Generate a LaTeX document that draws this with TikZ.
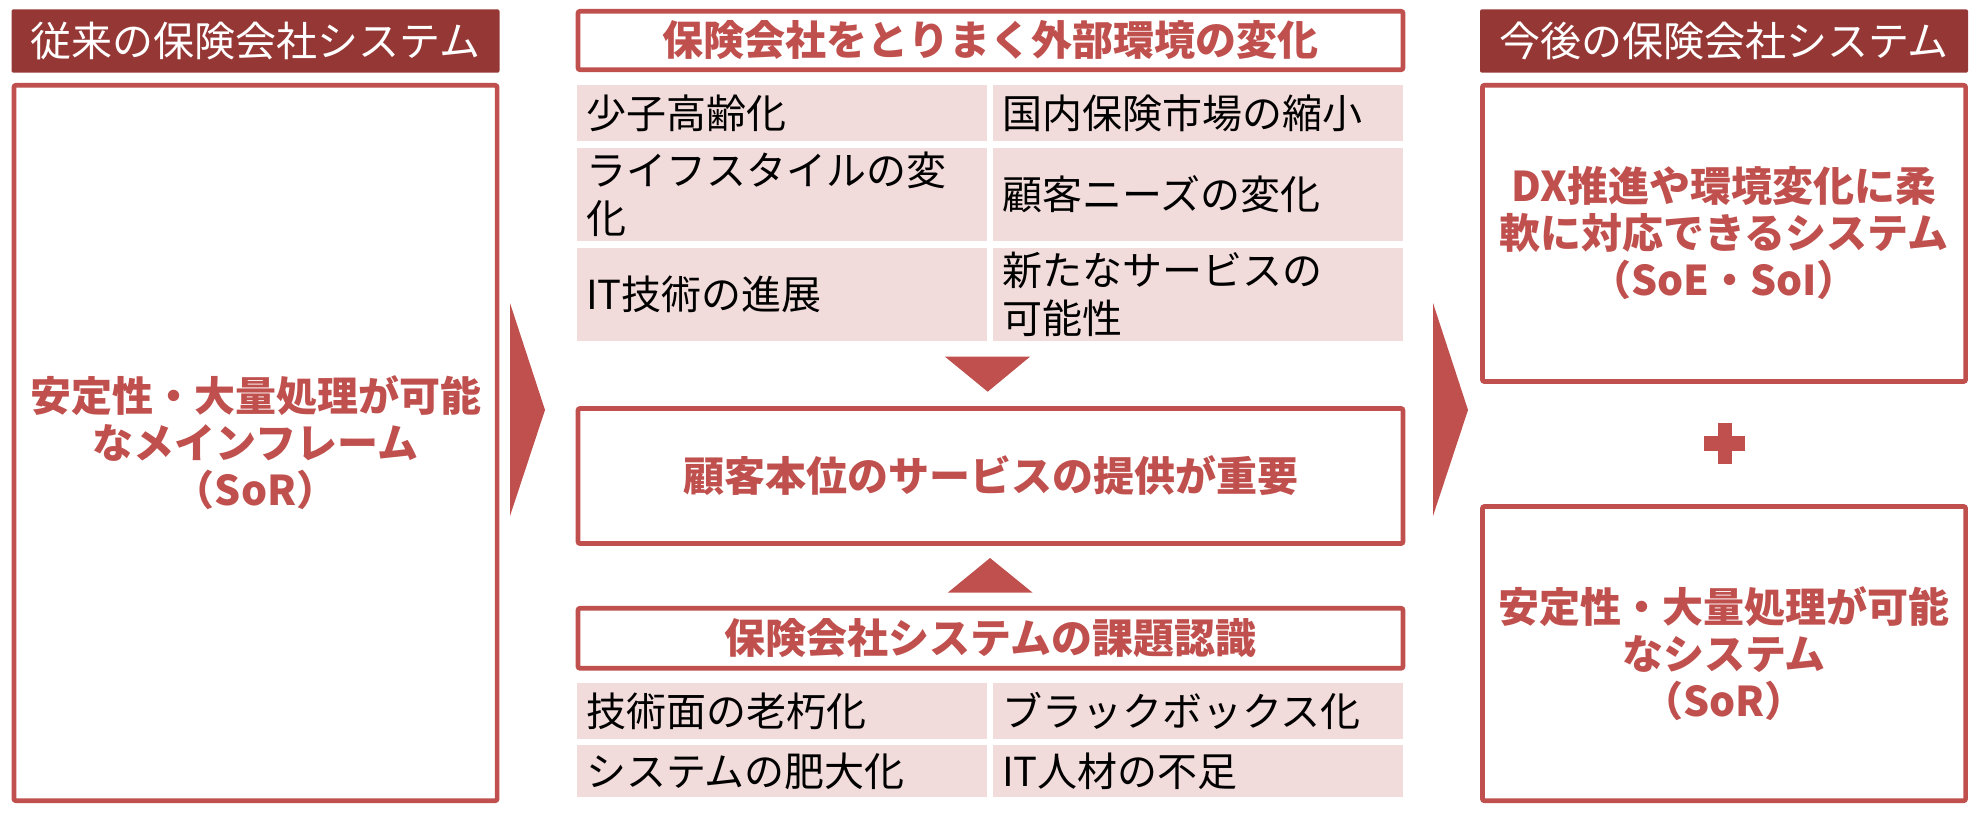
\documentclass[tikz,border=0pt]{standalone}
\usepackage{fontspec}
\setmainfont{Noto Sans CJK JP}
\definecolor{hdred}{HTML}{953735}
\definecolor{accred}{HTML}{C0504D}
\definecolor{cellred}{HTML}{F2DCDB}
\tikzset{
  hd/.style={fill=hdred, text=white, rounded corners=2pt, inner sep=0pt, font=\fontsize{41}{47}\selectfont},
  frm/.style={draw=accred, line width=4.7pt, fill=white, rounded corners=2pt, inner sep=0pt, text=accred, align=center, font=\fontsize{41}{47}\selectfont\bfseries},
  cell/.style={fill=cellred, inner xsep=9pt, inner ysep=0pt, text width=392pt, align=left, font=\fontsize{40}{48}\selectfont},
}

\begin{document}
\begin{tikzpicture}[x=1pt,y=-1pt]
        \useasboundingbox (0,0) rectangle (1980,823);
        % left column
        \node (h0) [hd, minimum width=488pt, minimum height=63.4pt] at (255.5, 41) {従来の保険会社システム};
        \node (b0) [frm, minimum width=483.2pt, minimum height=715.4pt] at (255.5, 443) {安定性・大量処理が可能\\なメインフレーム\\（SoR）};
        % middle column
        \node (h1) [frm, minimum width=825pt, minimum height=58.4pt] at (990.5, 40.5) {保険会社をとりまく外部環境の変化};
        \node (c0) [cell, minimum height=56pt] at (782, 113) {少子高齢化};
        \node (c1) [cell, minimum height=56pt] at (1198, 113) {国内保険市場の縮小};
        \node (c2) [cell, minimum height=93pt] at (782, 194.5) {ライフスタイルの変\\化};
        \node (c3) [cell, minimum height=93pt] at (1198, 194.5) {顧客ニーズの変化};
        \node (c4) [cell, minimum height=93pt] at (782, 294.5) {IT技術の進展};
        \node (c5) [cell, minimum height=93pt] at (1198, 294.5) {新たなサービスの\\可能性};
        \node (b1) [frm, minimum width=825pt, minimum height=135pt] at (990.5, 476) {顧客本位のサービスの提供が重要};
        \node (h2) [frm, minimum width=825pt, minimum height=60pt] at (990.5, 638.3) {保険会社システムの課題認識};
        \node (c6) [cell, minimum height=55.4pt] at (782, 711) {技術面の老朽化};
        \node (c7) [cell, minimum height=55.4pt] at (1198, 711) {ブラックボックス化};
        \node (c8) [cell, minimum height=52pt] at (782, 771.3) {システムの肥大化};
        \node (c9) [cell, minimum height=52pt] at (1198, 771.3) {IT人材の不足};
        % right column
        \node (h3) [hd, minimum width=488pt, minimum height=63.4pt] at (1724, 41) {今後の保険会社システム};
        \node (b2) [frm, minimum width=483.2pt, minimum height=296.2pt] at (1724, 233.4) {DX推進や環境変化に柔\\軟に対応できるシステム\\（SoE・SoI）};
        \node (b3) [frm, minimum width=483.2pt, minimum height=294.2pt] at (1724, 653.6) {安定性・大量処理が可能\\なシステム\\（SoR）};
        % arrows
        \fill[accred] (510, 303) -- (545, 410) -- (510, 516) -- cycle;
        \fill[accred] (1433, 303) -- (1468, 410) -- (1433, 516) -- cycle;
        \fill[accred] (945, 356.7) -- (1030, 356.7) -- (987.7, 391.7) -- cycle;
        \fill[accred] (947.7, 592.7) -- (1032.7, 592.7) -- (990, 558) -- cycle;
        % plus
        \fill[accred] (1704, 435.5) rectangle (1745, 450.5);
        \fill[accred] (1717.5, 423) rectangle (1731.5, 464);
\end{tikzpicture}
\end{document}
